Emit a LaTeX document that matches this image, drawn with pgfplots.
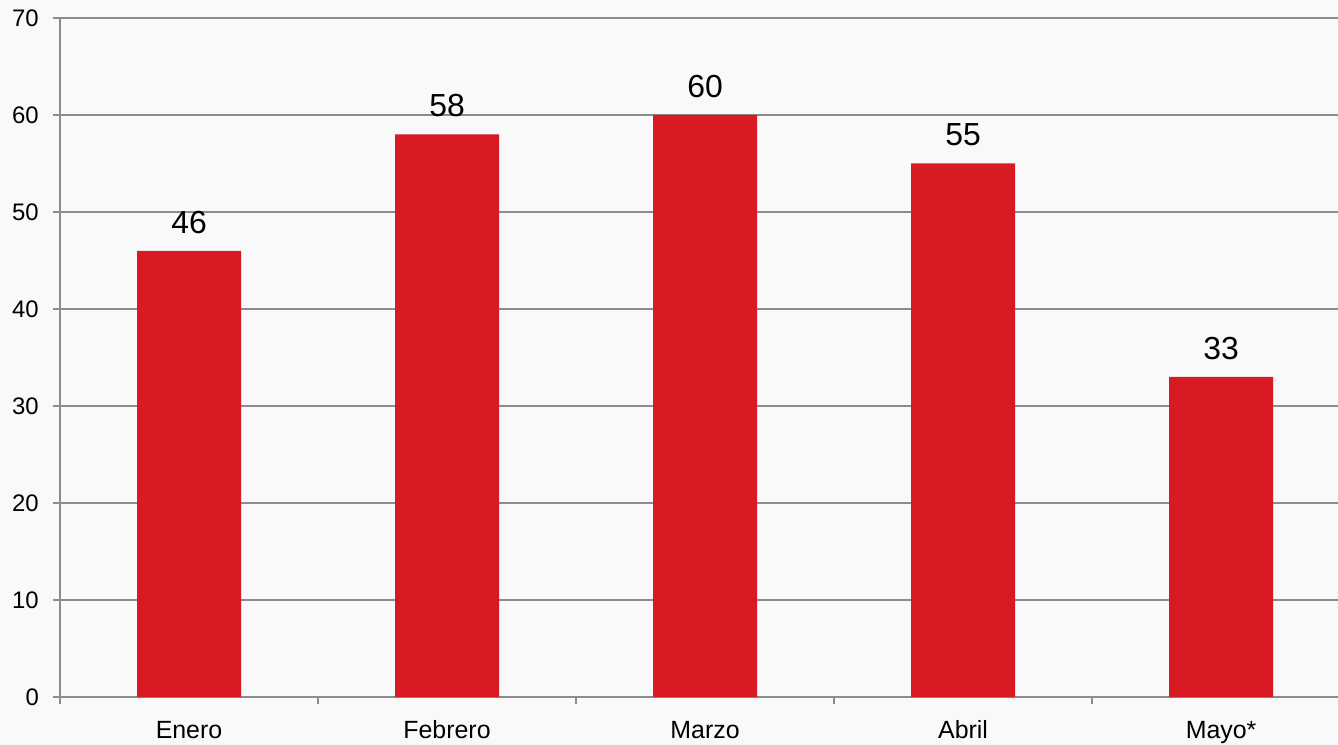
\documentclass[border=0pt]{standalone}
\usepackage{pgfplots}
\pgfplotsset{compat=1.18}
\usepackage{fontspec}
\setmainfont{Liberation Sans}
\definecolor{barred}{RGB}{216,27,34}
\definecolor{gridgray}{RGB}{140,140,140}
\definecolor{bgcol}{RGB}{249,249,251}
\begin{document}
\begin{tikzpicture}
% background, 1 px of the reference = 1 bp
\fill[bgcol] (-60bp,-48bp) rectangle (1278bp,697bp);
\begin{axis}[
  at={(0,0)}, anchor=south west,
  scale only axis, width=1278bp, height=679bp,
  xmin=-0.5, xmax=4.453, ymin=0, ymax=70,
  axis lines=left, axis line style={-, draw=gridgray, line width=2bp},
  ybar, bar width=104bp,
  ytick={0,10,...,70}, ymajorgrids, grid style={draw=gridgray, line width=2bp},
  xtick={0,1,2,3,4}, xticklabels={Enero,Febrero,Marzo,Abril,Mayo*},
  minor xtick={-0.5,0.5,1.5,2.5,3.5},
  major x tick style={draw=none},
  tick align=outside, major tick length=7bp, minor tick length=7bp,
  tick style={draw=gridgray, line width=2bp},
  /pgf/number format/assume math mode=true,
  yticklabel style={font=\fontsize{24}{28}\selectfont, anchor=east, inner sep=0pt, xshift=-14bp},
  xticklabel style={font=\fontsize{25}{29}\selectfont, anchor=north, inner sep=0pt, text height=18bp, text depth=5bp, yshift=-16bp},
  nodes near coords,
  every node near coord/.append style={font=\fontsize{32}{38}\selectfont, text=black, anchor=south, inner sep=0pt, yshift=17bp},
  clip=false,
]
\addplot[fill=barred, draw=none] coordinates {(0,46) (1,58) (2,60) (3,55) (4,33)};
\end{axis}
\pgfresetboundingbox
\useasboundingbox (-60bp,-48bp) rectangle (1278bp,697bp);
\end{tikzpicture}
\end{document}
